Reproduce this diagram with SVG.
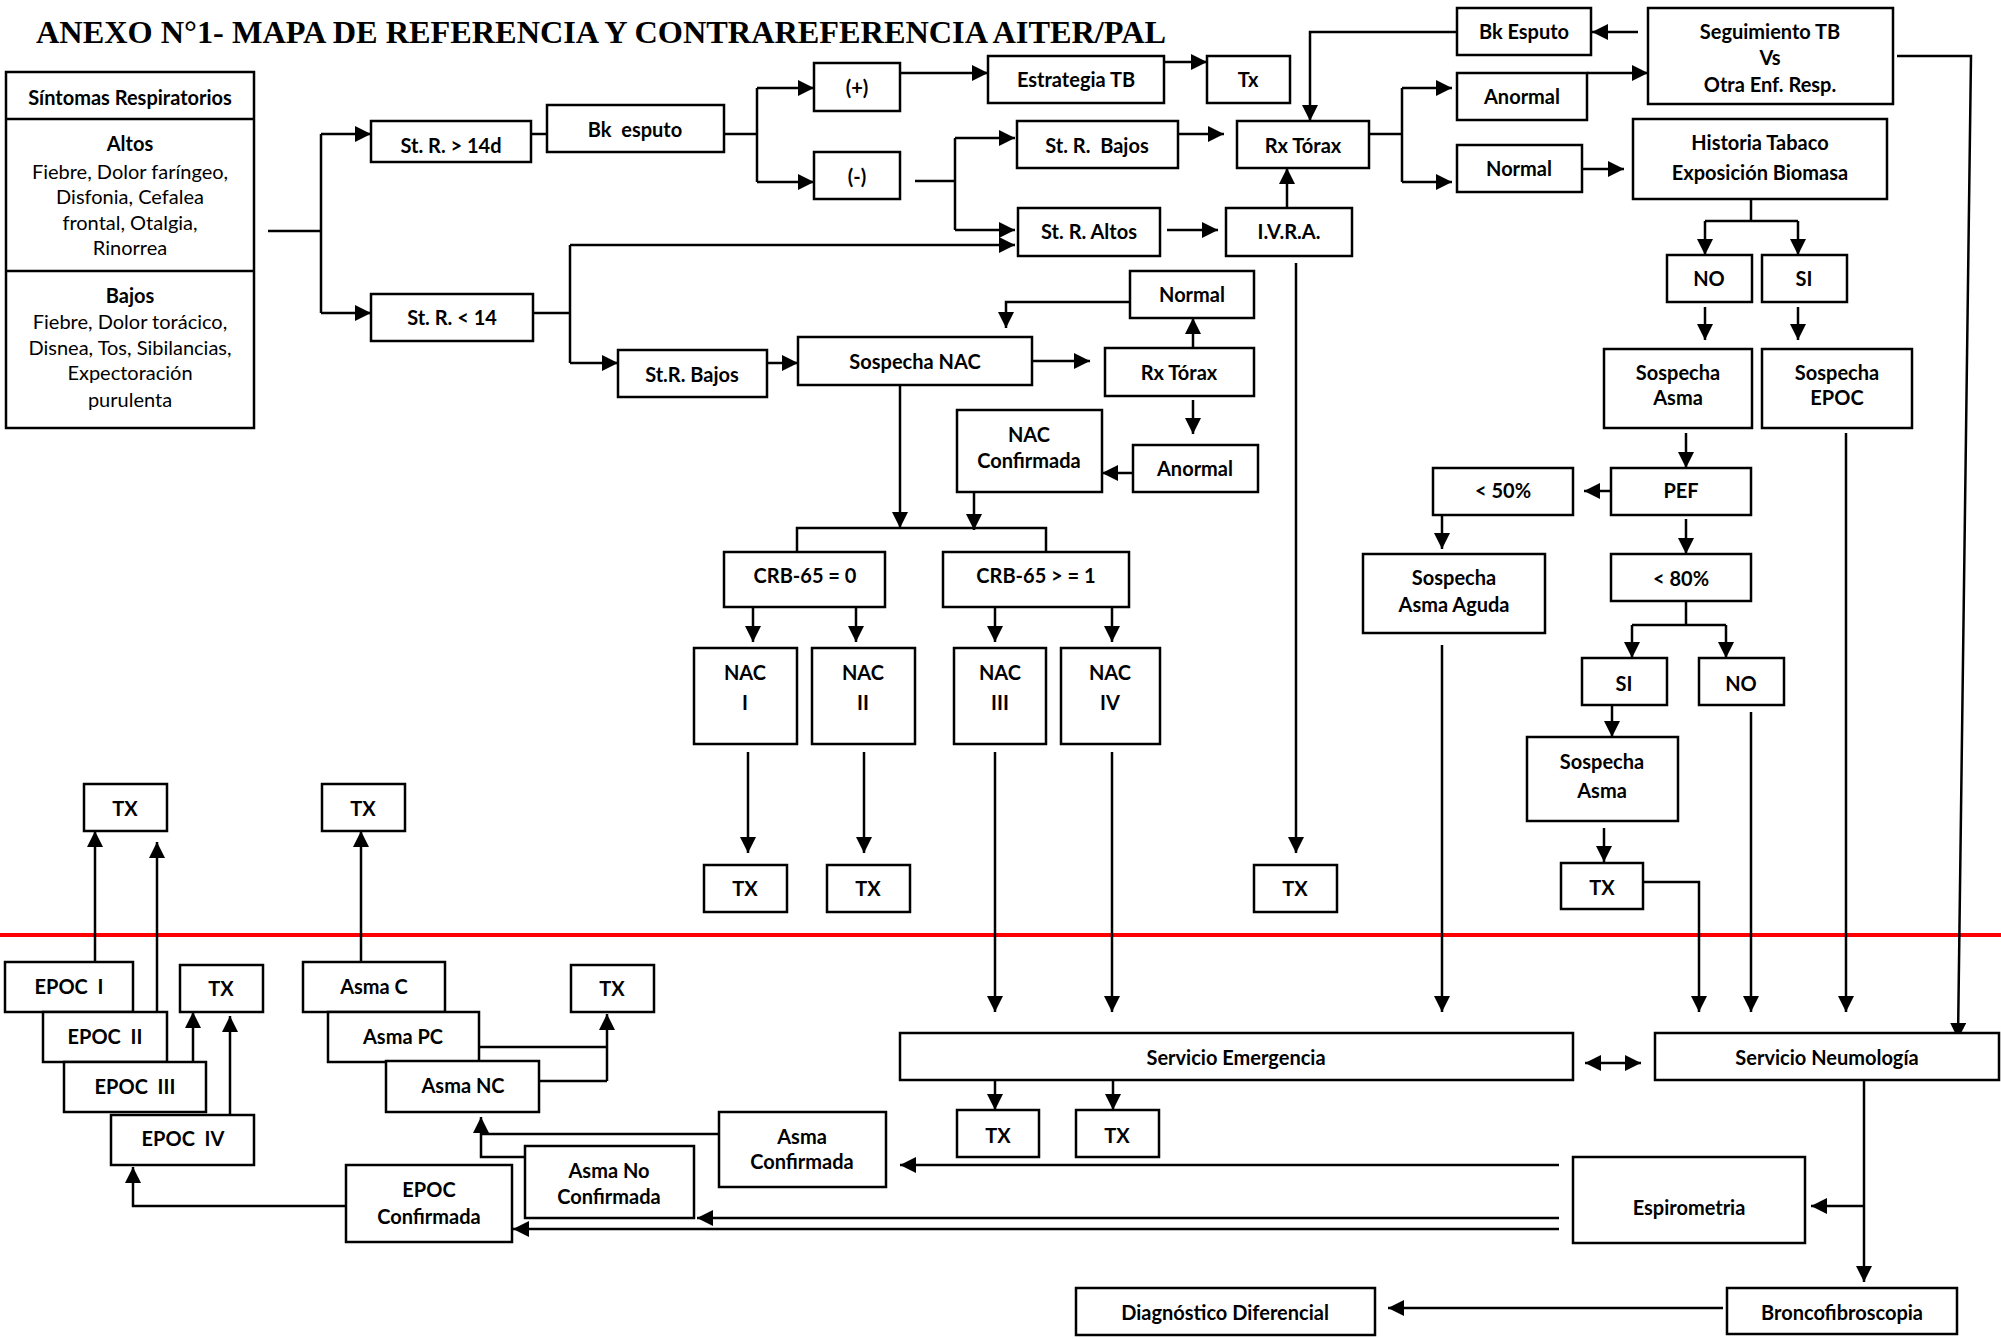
<svg xmlns="http://www.w3.org/2000/svg" width="2001" height="1340" viewBox="0 0 2001 1340">
<style>
rect{fill:#fff;stroke:#000;stroke-width:2.5}
text{font-family:Lato,"Liberation Sans",sans-serif;font-weight:bold;font-size:20px;text-anchor:middle;fill:#000}
text.r{font-weight:normal}
.c path{fill:none;stroke:#000;stroke-width:2.5}
.c path.a{marker-end:url(#ah)}
</style>
<defs>
<marker id="ah" markerUnits="userSpaceOnUse" markerWidth="16" markerHeight="16" refX="16" refY="8" orient="auto-start-reverse"><path d="M0,0 L16,8 L0,16 z" fill="#000"/></marker>
</defs>
<text x="36" y="43" textLength="1130" lengthAdjust="spacingAndGlyphs" style="font-family:'Liberation Serif',serif;font-size:32px;text-anchor:start">ANEXO N°1- MAPA DE REFERENCIA Y CONTRAREFERENCIA AITER/PAL</text>
<line x1="0" y1="935" x2="2001" y2="935" stroke="#ff0000" stroke-width="4"/>
<g class="c" id="connectors">
<path d="M268,231 H321 M321,134 V313"/><path class="a" d="M321,134 H371"/><path class="a" d="M321,313 H371"/>
<path d="M531,134 H547"/>
<path d="M724,134 H757 M757,88 V182"/><path class="a" d="M757,88 H814"/><path class="a" d="M757,182 H814"/>
<path class="a" d="M900,73 H988"/>
<path class="a" d="M1164,62 H1207"/>
<path d="M915,181 H955 M955,138 V230"/><path class="a" d="M955,138 H1015"/><path class="a" d="M955,230 H1015"/>
<path d="M531,313 H570 M570,245 V363"/><path class="a" d="M570,245 H1015"/><path class="a" d="M570,363 H618"/>
<path class="a" d="M1178,134 H1224"/>
<path class="a" d="M1167,230 H1218"/>
<path class="a" d="M1287,208 V168"/>
<path class="a" d="M1296,263 V853"/>
<path class="a" d="M1457,32 H1310 V121"/>
<path class="a" d="M1638,32 H1592"/>
<path d="M1369,134 H1402 M1402,88 V182"/><path class="a" d="M1402,88 H1452"/><path class="a" d="M1402,182 H1452"/>
<path class="a" d="M1587,73 H1648"/>
<path class="a" d="M1574,169 H1624"/>
<path d="M1751,199 V221 M1705,221 H1798"/><path class="a" d="M1705,221 V255"/><path class="a" d="M1798,221 V255"/>
<path class="a" d="M1705,307 V340"/><path class="a" d="M1798,307 V340"/>
<path class="a" d="M1686,433 V468"/>
<path class="a" d="M1615,491 H1584"/>
<path class="a" d="M1442,515 V549"/>
<path class="a" d="M1686,519 V554"/>
<path d="M1686,601 V625 M1632,625 H1726"/><path class="a" d="M1632,625 V658"/><path class="a" d="M1726,625 V658"/>
<path class="a" d="M1612,705 V737"/>
<path class="a" d="M1604,828 V862"/>
<path class="a" d="M1643,882 H1699 V1012"/>
<path class="a" d="M1751,712 V1012"/>
<path class="a" d="M1846,433 V1012"/>
<path class="a" d="M1897,56 H1971 L1958,1039"/>
<path class="a" d="M1442,645 V1012"/>
<path class="a" d="M995,752 V1012"/><path class="a" d="M1112,752 V1012"/>
<path class="a" d="M748,752 V853"/><path class="a" d="M864,752 V853"/>
<path class="a" d="M753,607 V642"/><path class="a" d="M856,607 V642"/><path class="a" d="M995,607 V642"/><path class="a" d="M1112,607 V642"/>
<path d="M797,552 V528 H1046 V552"/><path class="a" d="M900,385 V528"/><path class="a" d="M974,492 V530"/>
<path class="a" d="M767,363 H798"/>
<path class="a" d="M1033,361 H1090"/>
<path class="a" d="M1193,348 V318"/>
<path class="a" d="M1130,302 H1006 V328"/>
<path class="a" d="M1193,400 V434"/>
<path class="a" d="M1133,473 H1102"/>
<path class="a" d="M1585,1063 H1641" style="marker-start:url(#ah)"/>
<path class="a" d="M995,1080 V1110"/><path class="a" d="M1113,1080 V1110"/>
<path class="a" d="M1864,1080 V1282"/>
<path class="a" d="M1864,1206 H1811"/>
<path class="a" d="M1559,1165 H900"/>
<path class="a" d="M1559,1218 H697"/>
<path class="a" d="M1559,1229 H513"/>
<path class="a" d="M1723,1308 H1388"/>
<path class="a" d="M346,1206 H133 V1167"/>
<path class="a" d="M525,1157 H481 V1117"/><path d="M719,1134 H481"/>
<path d="M479,1047 H607 M530,1081 H607"/><path class="a" d="M607,1081 V1014"/>
<path class="a" d="M95,962 V831"/><path class="a" d="M157,1012 V842"/>
<path class="a" d="M193,1062 V1012"/><path class="a" d="M230,1115 V1016"/>
<path class="a" d="M361,962 V831"/>
</g>
<g id="sintomas"><rect x="6" y="72" width="248" height="356"/><line x1="6" y1="119" x2="254" y2="119" stroke="#000" stroke-width="2.5"/><line x1="6" y1="271" x2="254" y2="271" stroke="#000" stroke-width="2.5"/>
<text x="130" y="105">Síntomas Respiratorios</text>
<text x="130" y="151">Altos</text>
<text class="r" x="130" y="179">Fiebre, Dolor faríngeo,</text>
<text class="r" x="130" y="204">Disfonia, Cefalea</text>
<text class="r" x="130" y="230">frontal, Otalgia,</text>
<text class="r" x="130" y="255">Rinorrea</text>
<text x="130" y="303">Bajos</text>
<text class="r" x="130" y="329">Fiebre, Dolor torácico,</text>
<text class="r" x="130" y="355">Disnea, Tos, Sibilancias,</text>
<text class="r" x="130" y="380">Expectoración</text>
<text class="r" x="130" y="407">purulenta</text></g>
<g id="st14d"><rect x="371" y="121" width="160" height="41"/><text x="451" y="153">St. R. &gt; 14d</text></g>
<g id="bkesputo"><rect x="547" y="105" width="177" height="47"/><text x="635" y="137" xml:space="preserve">Bk  esputo</text></g>
<g id="str14"><rect x="371" y="294" width="162" height="47"/><text x="452" y="325">St. R. &lt; 14</text></g>
<g id="pos"><rect x="814" y="63" width="86" height="48"/><text x="857" y="95">(+)</text></g>
<g id="neg"><rect x="814" y="152" width="86" height="47"/><text x="857" y="184">(-)</text></g>
<g id="estrategia"><rect x="988" y="56" width="176" height="47"/><text x="1076" y="87">Estrategia TB</text></g>
<g id="tx1"><rect x="1207" y="56" width="83" height="47"/><text x="1248" y="87">Tx</text></g>
<g id="strbajos1"><rect x="1017" y="121" width="161" height="47"/><text x="1097" y="153" xml:space="preserve">St. R.  Bajos</text></g>
<g id="straltos"><rect x="1018" y="208" width="142" height="48"/><text x="1089" y="239">St. R. Altos</text></g>
<g id="rxtorax1"><rect x="1237" y="121" width="132" height="47"/><text x="1303" y="153">Rx Tórax</text></g>
<g id="ivra"><rect x="1226" y="208" width="126" height="48"/><text x="1289" y="239">I.V.R.A.</text></g>
<g id="bkesputo2"><rect x="1457" y="8" width="134" height="47"/><text x="1524" y="39">Bk Esputo</text></g>
<g id="seguimiento"><rect x="1648" y="8" width="245" height="96"/><text x="1770" y="39">Seguimiento TB</text><text x="1770" y="65">Vs</text><text x="1770" y="92">Otra Enf. Resp.</text></g>
<g id="anormal1"><rect x="1457" y="73" width="130" height="47"/><text x="1522" y="104">Anormal</text></g>
<g id="normal1"><rect x="1457" y="145" width="125" height="47"/><text x="1519" y="176">Normal</text></g>
<g id="historia"><rect x="1633" y="119" width="254" height="80"/><text x="1760" y="150">Historia Tabaco</text><text x="1760" y="180">Exposición Biomasa</text></g>
<g id="no1"><rect x="1667" y="255" width="85" height="47"/><text x="1709" y="286">NO</text></g>
<g id="si1"><rect x="1762" y="255" width="85" height="47"/><text x="1804" y="286">SI</text></g>
<g id="sospasma1"><rect x="1604" y="349" width="148" height="79"/><text x="1678" y="380">Sospecha</text><text x="1678" y="405">Asma</text></g>
<g id="sospepoc"><rect x="1762" y="349" width="150" height="79"/><text x="1837" y="380">Sospecha</text><text x="1837" y="405">EPOC</text></g>
<g id="pef"><rect x="1611" y="468" width="140" height="47"/><text x="1681" y="498">PEF</text></g>
<g id="lt50"><rect x="1433" y="468" width="140" height="47"/><text x="1503" y="498">&lt; 50%</text></g>
<g id="sospaguda"><rect x="1363" y="554" width="182" height="79"/><text x="1454" y="585">Sospecha</text><text x="1454" y="612">Asma Aguda</text></g>
<g id="lt80"><rect x="1611" y="554" width="140" height="47"/><text x="1681" y="586">&lt; 80%</text></g>
<g id="si2"><rect x="1582" y="658" width="85" height="47"/><text x="1624" y="691">SI</text></g>
<g id="no2"><rect x="1699" y="658" width="85" height="47"/><text x="1741" y="691">NO</text></g>
<g id="sospasma2"><rect x="1527" y="737" width="151" height="84"/><text x="1602" y="769">Sospecha</text><text x="1602" y="798">Asma</text></g>
<g id="txasma2"><rect x="1561" y="863" width="82" height="46"/><text x="1602" y="895">TX</text></g>
<g id="strbajos2"><rect x="618" y="350" width="149" height="47"/><text x="692" y="382">St.R. Bajos</text></g>
<g id="sospnac"><rect x="798" y="337" width="234" height="48"/><text x="915" y="369">Sospecha NAC</text></g>
<g id="rxtorax2"><rect x="1105" y="348" width="149" height="48"/><text x="1179" y="380">Rx Tórax</text></g>
<g id="normal2"><rect x="1130" y="271" width="124" height="47"/><text x="1192" y="302">Normal</text></g>
<g id="anormal2"><rect x="1133" y="445" width="125" height="47"/><text x="1195" y="476">Anormal</text></g>
<g id="nacconf"><rect x="957" y="410" width="145" height="82"/><text x="1029" y="442">NAC</text><text x="1029" y="468">Confirmada</text></g>
<g id="crb0"><rect x="724" y="552" width="161" height="55"/><text x="805" y="583">CRB-65 = 0</text></g>
<g id="crb1"><rect x="943" y="552" width="186" height="55"/><text x="1036" y="583">CRB-65 &gt; = 1</text></g>
<g id="nac1"><rect x="694" y="648" width="103" height="96"/><text x="745" y="680">NAC</text><text x="745" y="710">I</text></g>
<g id="nac2"><rect x="812" y="648" width="103" height="96"/><text x="863" y="680">NAC</text><text x="863" y="710">II</text></g>
<g id="nac3"><rect x="954" y="648" width="92" height="96"/><text x="1000" y="680">NAC</text><text x="1000" y="710">III</text></g>
<g id="nac4"><rect x="1061" y="648" width="99" height="96"/><text x="1110" y="680">NAC</text><text x="1110" y="710">IV</text></g>
<g id="txn1"><rect x="704" y="865" width="83" height="47"/><text x="745" y="896">TX</text></g>
<g id="txn2"><rect x="827" y="865" width="83" height="47"/><text x="868" y="896">TX</text></g>
<g id="txivra"><rect x="1254" y="865" width="83" height="47"/><text x="1295" y="896">TX</text></g>
<g id="emergencia"><rect x="900" y="1033" width="673" height="47"/><text x="1236" y="1065">Servicio Emergencia</text></g>
<g id="neumologia"><rect x="1655" y="1033" width="344" height="47"/><text x="1827" y="1065">Servicio Neumología</text></g>
<g id="txe1"><rect x="957" y="1110" width="82" height="47"/><text x="998" y="1143">TX</text></g>
<g id="txe2"><rect x="1076" y="1110" width="83" height="47"/><text x="1117" y="1143">TX</text></g>
<g id="espirometria"><rect x="1573" y="1157" width="232" height="86"/><text x="1689" y="1215">Espirometria</text></g>
<g id="asmaconf"><rect x="719" y="1112" width="167" height="75"/><text x="802" y="1144">Asma</text><text x="802" y="1169">Confirmada</text></g>
<g id="asmanoconf"><rect x="525" y="1146" width="169" height="72"/><text x="609" y="1178">Asma No</text><text x="609" y="1204">Confirmada</text></g>
<g id="epocconf"><rect x="346" y="1165" width="166" height="77"/><text x="429" y="1197">EPOC</text><text x="429" y="1224">Confirmada</text></g>
<g id="bronco"><rect x="1727" y="1288" width="230" height="46"/><text x="1842" y="1320">Broncofibroscopia</text></g>
<g id="diag"><rect x="1076" y="1288" width="299" height="47"/><text x="1225" y="1320">Diagnóstico Diferencial</text></g>
<g id="epoc1"><rect x="5" y="962" width="128" height="50"/><text x="69" y="994" xml:space="preserve">EPOC  I</text></g>
<g id="epoc2"><rect x="43" y="1012" width="124" height="50"/><text x="105" y="1044" xml:space="preserve">EPOC  II</text></g>
<g id="epoc3"><rect x="64" y="1062" width="142" height="50"/><text x="135" y="1094" xml:space="preserve">EPOC  III</text></g>
<g id="epoc4"><rect x="111" y="1115" width="143" height="50"/><text x="183" y="1146" xml:space="preserve">EPOC  IV</text></g>
<g id="txepoctop"><rect x="84" y="784" width="83" height="47"/><text x="125" y="816">TX</text></g>
<g id="txasmatop"><rect x="322" y="784" width="83" height="47"/><text x="363" y="816">TX</text></g>
<g id="txepocside"><rect x="180" y="965" width="83" height="47"/><text x="221" y="996">TX</text></g>
<g id="asmac"><rect x="303" y="962" width="142" height="50"/><text x="374" y="994">Asma C</text></g>
<g id="asmapc"><rect x="328" y="1012" width="151" height="50"/><text x="403" y="1044">Asma PC</text></g>
<g id="asmanc"><rect x="386" y="1061" width="153" height="51"/><text x="463" y="1093">Asma NC</text></g>
<g id="txasmaside"><rect x="571" y="965" width="83" height="47"/><text x="612" y="996">TX</text></g>
</svg>
